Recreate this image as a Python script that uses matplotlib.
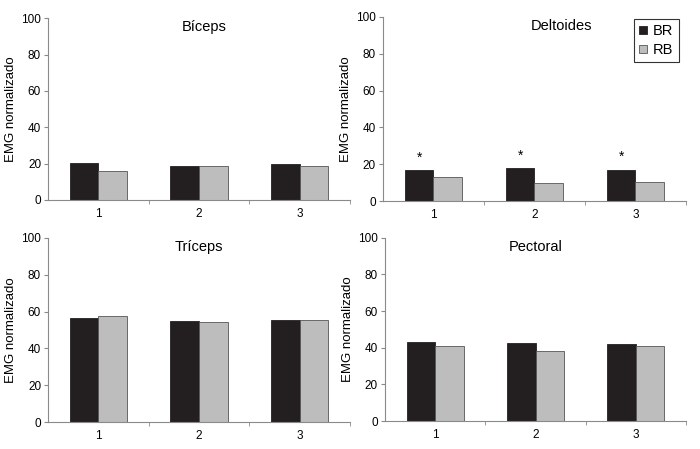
import numpy as np
import matplotlib.pyplot as plt

plt.rcParams['font.family'] = ['Liberation Sans', 'DejaVu Sans']

categorias = ['1', '2', '3']
musculos = ['Bíceps', 'Deltoides', 'Tríceps', 'Pectoral']
br = {'Bíceps': [20.6, 18.6, 19.7],
      'Deltoides': [16.7, 18.0, 17.1],
      'Tríceps': [56.4, 54.9, 55.6],
      'Pectoral': [42.9, 42.5, 42.3]}
rb = {'Bíceps': [16.2, 18.6, 18.6],
      'Deltoides': [13.1, 9.8, 10.2],
      'Tríceps': [57.5, 54.2, 55.3],
      'Pectoral': [41.2, 38.1, 40.9]}
significativo = {'Deltoides': [True, True, True]}

posicoes = {'Bíceps': [0.0686, 0.5546, 0.4314, 0.405],
            'Deltoides': [0.547, 0.5523, 0.433, 0.41],
            'Tríceps': [0.0686, 0.0601, 0.4314, 0.41],
            'Pectoral': [0.55, 0.0623, 0.43, 0.408]}
titulo_x = {'Bíceps': 2.05, 'Deltoides': 2.27, 'Tríceps': 2.0, 'Pectoral': 2.0}

fig = plt.figure(figsize=(7, 4.49), dpi=100)
x = np.arange(1, 4)
w = 0.285
cinza_eixo = '#8a8a8a'

for m in musculos:
    ax = fig.add_axes(posicoes[m])
    ax.bar(x - w / 2, br[m], w, color='#231f20', edgecolor='#231f20', linewidth=0.6, label='BR')
    ax.bar(x + w / 2, rb[m], w, color='#bdbdbd', edgecolor='#555555', linewidth=0.6, label='RB')
    ax.set_xlim(0.5, 3.5)
    ax.set_ylim(0, 100)
    ax.set_yticks([0, 20, 40, 60, 80, 100])
    ax.set_xticks(x)
    ax.set_xticklabels(categorias)
    ax.set_xticks([1.5, 2.5, 3.5], minor=True)
    ax.tick_params(axis='x', which='major', length=0, labelsize=8.5, pad=6)
    ax.tick_params(axis='x', which='minor', length=3, color=cinza_eixo)
    ax.tick_params(axis='y', length=3, color=cinza_eixo, labelsize=8.5, pad=2)
    for s in ['top', 'right']:
        ax.spines[s].set_visible(False)
    for s in ['left', 'bottom']:
        ax.spines[s].set_color(cinza_eixo)
        ax.spines[s].set_linewidth(0.8)
    ax.set_ylabel('EMG normalizado', fontsize=9.5, labelpad=3)
    ax.text(titulo_x[m], 95, m, ha='center', va='center', fontsize=10.5)
    if m in significativo:
        for xi, v, s in zip(x, br[m], significativo[m]):
            if s:
                ax.text(xi - w / 2, v + 3, '*', ha='center', va='bottom', fontsize=10)
    if m == 'Deltoides':
        leg = ax.legend(loc='upper right', bbox_to_anchor=(1.0, 1.03), fontsize=10.5,
                        frameon=True, fancybox=False, handlelength=0.6, handleheight=0.45,
                        handletextpad=0.4, borderpad=0.35, labelspacing=0.35)
        leg.get_frame().set_edgecolor('black')
        leg.get_frame().set_linewidth(0.8)

plt.savefig('out.png', dpi=100)
